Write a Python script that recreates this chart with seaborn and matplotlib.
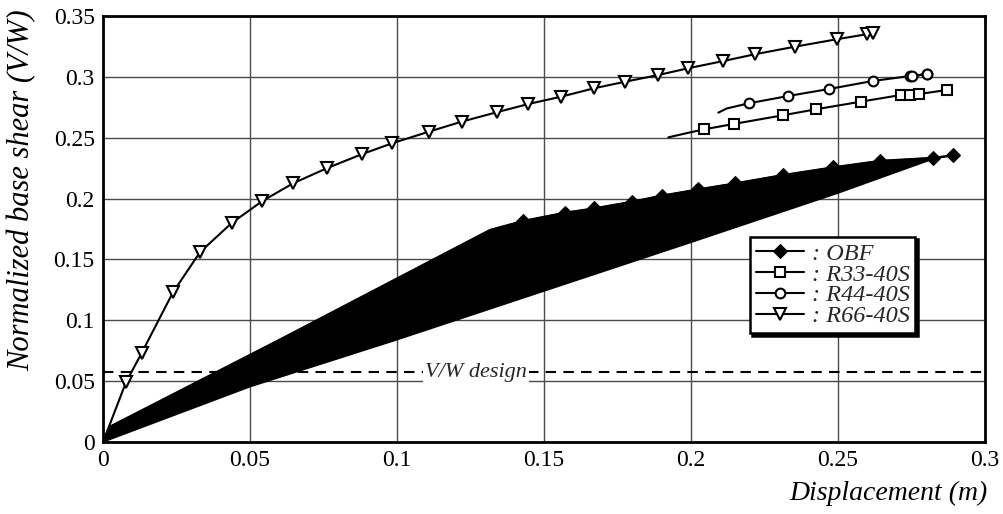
import numpy as np
import pandas as pd
import matplotlib
matplotlib.use('Agg')
import matplotlib.pyplot as plt
import seaborn as sns

# ---- data ----
# R66-40S (triangles)
r66_x = [0.0, 0.0078, 0.0132, 0.0238, 0.033, 0.0438, 0.0542, 0.0647, 0.0761, 0.0882, 0.0983,
         0.1109, 0.122, 0.1339, 0.1447, 0.1558, 0.167, 0.1776, 0.1889, 0.1989, 0.211, 0.2218,
         0.2354, 0.2496, 0.2598, 0.2618]
r66_y = [0.0, 0.049, 0.0734, 0.123, 0.156, 0.180, 0.198, 0.2126, 0.2249, 0.2366, 0.2454,
         0.255, 0.2632, 0.2709, 0.2777, 0.2837, 0.2906, 0.296, 0.3015, 0.307, 0.313, 0.3186,
         0.3248, 0.3309, 0.335, 0.3358]

# R44-40S (circles)
r44_x = [0.2093, 0.2121, 0.2197, 0.2331, 0.2469, 0.2618, 0.2745, 0.2802, 0.2750, 0.2802]
r44_y = [0.2706, 0.2740, 0.2783, 0.2843, 0.2900, 0.2966, 0.3007, 0.3021, 0.3008, 0.3021]

# R33-40S (squares)
r33_x = [0.1923, 0.1990, 0.2045, 0.2145, 0.2312, 0.2424, 0.2577, 0.2714, 0.2745, 0.2776, 0.2870]
r33_y = [0.2503, 0.2540, 0.2569, 0.2613, 0.2684, 0.2733, 0.2796, 0.2851, 0.2851, 0.2859, 0.2892]

# OBF loading branch (diamonds) and unloading branch
obf_x = [0.0, 0.0023, 0.06, 0.1316, 0.1428, 0.1571, 0.1671, 0.1798, 0.19, 0.2025, 0.215,
         0.2314, 0.2484, 0.2643, 0.2823, 0.289]
obf_y = [0.0, 0.0126, 0.084, 0.1742, 0.1816, 0.1884, 0.192, 0.1974, 0.2024, 0.2076, 0.2125,
         0.2194, 0.2257, 0.231, 0.2335, 0.2355]
obf_back_x = [0.2823, 0.25, 0.2, 0.15, 0.1, 0.05, 0.0]
obf_back_y = [0.2325, 0.2045, 0.164, 0.124, 0.084, 0.0454, 0.0]

vw_design = 0.0575

sns.set_theme(style='white')
plt.rcParams['font.family'] = ['Liberation Serif', 'DejaVu Serif']

fig = plt.figure(figsize=(10.04, 5.14), dpi=100)
ax = fig.add_axes([0.1026, 0.140, 0.8785, 0.8289])

# grid
ax.set_axisbelow(True)
ax.grid(True, color='#4a4a4a', linewidth=1.0)

# OBF filled loop
ax.fill(obf_x + obf_back_x, obf_y + obf_back_y, color='black', zorder=2)

sns.lineplot(x=obf_x, y=obf_y, sort=False, estimator=None, color='black', lw=1.5,
             marker='D', markersize=7, markevery=list(range(4, len(obf_x))),
             markerfacecolor='black', markeredgecolor='black', label=': OBF', ax=ax, zorder=3)
sns.lineplot(x=r33_x, y=r33_y, sort=False, estimator=None, color='black', lw=1.5,
             marker='s', markersize=7, markevery=list(range(2, len(r33_x))),
             markerfacecolor='white', markeredgecolor='black', markeredgewidth=1.5,
             label=': R33-40S', ax=ax, zorder=3)
sns.lineplot(x=r44_x, y=r44_y, sort=False, estimator=None, color='black', lw=1.5,
             marker='o', markersize=7, markevery=list(range(2, len(r44_x))),
             markerfacecolor='white', markeredgecolor='black', markeredgewidth=1.5,
             label=': R44-40S', ax=ax, zorder=3)
sns.lineplot(x=r66_x, y=r66_y, sort=False, estimator=None, color='black', lw=1.5,
             marker='v', markersize=8, markevery=list(range(1, len(r66_x))),
             markerfacecolor='white', markeredgecolor='black', markeredgewidth=1.5,
             label=': R66-40S', ax=ax, zorder=3)

# design level
ax.axhline(vw_design, color='black', lw=1.5, ls=(0, (5, 3.5)), zorder=2.5)
ax.text(0.127, vw_design, 'V/W design', style='italic', fontsize=16, ha='center', va='center',
        bbox=dict(facecolor='white', edgecolor='none', pad=1.5), zorder=2.6)

ax.set_xlim(0, 0.3)
ax.set_ylim(0, 0.35)
ax.set_xticks(np.arange(0, 0.301, 0.05))
ax.set_yticks(np.arange(0, 0.351, 0.05))
ax.set_xticklabels(['0', '0.05', '0.1', '0.15', '0.2', '0.25', '0.3'])
ax.set_yticklabels(['0', '0.05', '0.1', '0.15', '0.2', '0.25', '0.3', '0.35'])
ax.tick_params(length=0, labelsize=17, colors='black', pad=6)

for s in ax.spines.values():
    s.set_color('black')
    s.set_linewidth(2)

ax.set_xlabel('Displacement (m)', style='italic', fontsize=20, loc='right', color='black')
ax.xaxis.set_label_coords(1.003, -0.092)
ax.set_ylabel('Normalized base shear (V/W)', style='italic', fontsize=22, loc='top', color='black')
ax.yaxis.set_label_coords(-0.076, 1.016)

leg = ax.legend(loc='upper left', bbox_to_anchor=(0.733, 0.482), frameon=True, fancybox=False,
                shadow={'color': 'black', 'alpha': 1.0},
                prop={'family': 'Liberation Serif', 'style': 'italic', 'size': 17.5},
                handlelength=2.0, handletextpad=0.3, labelspacing=-0.05, borderpad=0.25,
                borderaxespad=0)
leg.get_frame().set_edgecolor('black')
leg.get_frame().set_linewidth(1.8)
leg.get_frame().set_alpha(1)
leg.set_zorder(5)

fig.savefig('out.png', dpi=100, facecolor='white')
